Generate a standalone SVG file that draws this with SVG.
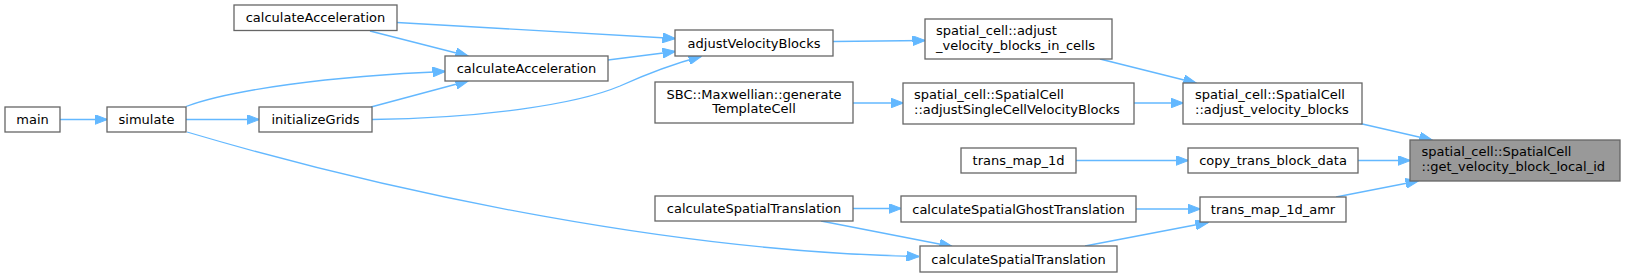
<svg xmlns="http://www.w3.org/2000/svg" width="1625" height="277" viewBox="0 0 1625 277">
<style>
.n rect{fill:#ffffff;stroke:#666666;stroke-width:1.3}
.n.h rect{fill:#999999}
.n text{font-family:"DejaVu Sans",sans-serif;font-size:13px;fill:#000000}
.c{text-anchor:middle}
.e path{fill:none;stroke:#63b8ff;stroke-width:1.3;marker-end:url(#ah)}
</style>
<defs>
<marker id="ah" viewBox="0 0 13 10" refX="12.5" refY="5" markerWidth="13" markerHeight="10" markerUnits="userSpaceOnUse" orient="auto">
<path d="M0,0 L13,5 L0,10 z" fill="#63b8ff" stroke="#63b8ff" stroke-width="1"/>
</marker>
</defs>
<rect width="1625" height="277" fill="#ffffff"/>
<g id="edges" class="e">
<path d="M60,119.5 L107,119.5"/>
<path d="M186,119.5 L259,119.5"/>
<path d="M186,106.5 C230,90 330,76 445,71.5"/>
<path d="M187,132 C400,195 680,252 919,256.5"/>
<path d="M370,31 L468,56"/>
<path d="M371,107 L468,81"/>
<path d="M372,119.5 C480,118 575,105 620,86 C640,77 665,66 701,56.5"/>
<path d="M397,22.5 L675,38.5"/>
<path d="M608,60 L675,51.5"/>
<path d="M833,41.5 L925,40.5"/>
<path d="M1100,59 L1196,83"/>
<path d="M853,103 L903,103"/>
<path d="M1134,103 L1183,103"/>
<path d="M1358,123 L1432,140"/>
<path d="M1358,160.5 L1410,160.5"/>
<path d="M1336,197 L1418,181"/>
<path d="M1076,160.5 L1188,160.5"/>
<path d="M853,208.5 L901,208.5"/>
<path d="M1136,209 L1200,209"/>
<path d="M821,221 L952,246.5"/>
<path d="M1085,246 L1208,222.5"/>
</g>
<g id="main" class="n"><rect x="5" y="107" width="55" height="25"/><text class="c" x="32.5" y="124">main</text></g>
<g id="simulate" class="n"><rect x="107" y="107" width="79" height="25"/><text class="c" x="146.5" y="124">simulate</text></g>
<g id="initializeGrids" class="n"><rect x="259" y="107" width="113" height="25"/><text class="c" x="315.5" y="124">initializeGrids</text></g>
<g id="calcAccelTop" class="n"><rect x="234" y="5" width="163" height="25.5"/><text class="c" x="315.5" y="22">calculateAcceleration</text></g>
<g id="calcAccelMid" class="n"><rect x="445" y="56" width="163" height="25"/><text class="c" x="526.5" y="73">calculateAcceleration</text></g>
<g id="adjustVelocityBlocks" class="n"><rect x="675" y="30" width="158" height="26"/><text class="c" x="754" y="47.5">adjustVelocityBlocks</text></g>
<g id="sbcGenerate" class="n"><rect x="655" y="82" width="198" height="41"/><text class="c" x="754" y="98.5">SBC::Maxwellian::generate</text><text class="c" x="754" y="113">TemplateCell</text></g>
<g id="adjustInCells" class="n"><rect x="925" y="19" width="187" height="40"/><text x="936" y="35">spatial_cell::adjust</text><text x="936" y="49.5">_velocity_blocks_in_cells</text></g>
<g id="adjustSingleCell" class="n"><rect x="903" y="83" width="231" height="41"/><text x="914" y="99">spatial_cell::SpatialCell</text><text x="914" y="113.5">::adjustSingleCellVelocityBlocks</text></g>
<g id="adjustVelocityBlocksSC" class="n"><rect x="1183" y="83" width="179" height="41"/><text x="1195" y="99">spatial_cell::SpatialCell</text><text x="1195" y="113.5">::adjust_velocity_blocks</text></g>
<g id="getVelocityBlockLocalId" class="n h"><rect x="1410" y="140" width="210" height="41"/><text x="1421.5" y="156">spatial_cell::SpatialCell</text><text x="1421.5" y="170.5">::get_velocity_block_local_id</text></g>
<g id="transMap1d" class="n"><rect x="961" y="148" width="115" height="25"/><text class="c" x="1018.5" y="165">trans_map_1d</text></g>
<g id="copyTransBlockData" class="n"><rect x="1188" y="148" width="170" height="25"/><text class="c" x="1273" y="165">copy_trans_block_data</text></g>
<g id="calcSpatialTransLeft" class="n"><rect x="655" y="196" width="198" height="25"/><text class="c" x="754" y="213">calculateSpatialTranslation</text></g>
<g id="calcSpatialGhostTrans" class="n"><rect x="901" y="196" width="235" height="26"/><text class="c" x="1018.5" y="213.5">calculateSpatialGhostTranslation</text></g>
<g id="transMap1dAmr" class="n"><rect x="1200" y="197" width="146" height="25"/><text class="c" x="1273" y="214">trans_map_1d_amr</text></g>
<g id="calcSpatialTransBottom" class="n"><rect x="920" y="246" width="197" height="26"/><text class="c" x="1018.5" y="263.5">calculateSpatialTranslation</text></g>
</svg>
